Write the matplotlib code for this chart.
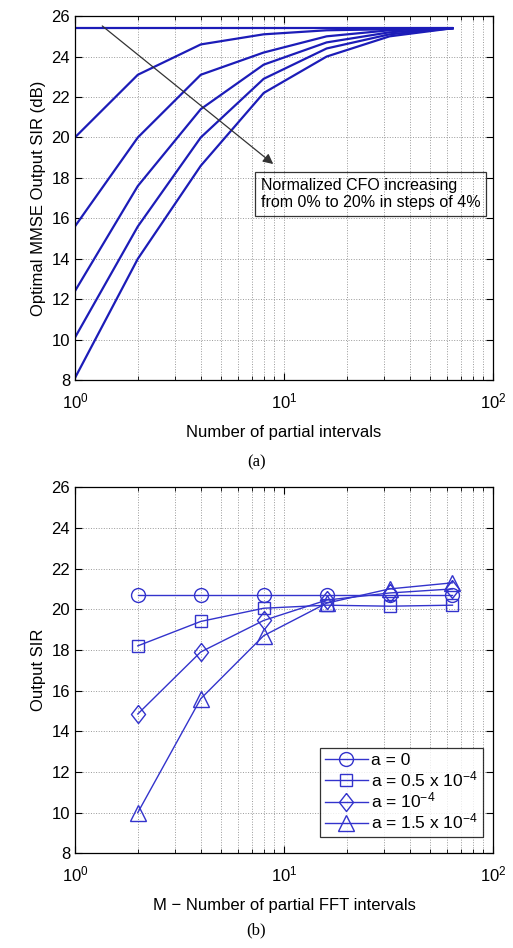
import matplotlib
matplotlib.use('Agg')
import matplotlib.pyplot as plt
import numpy as np

plt.rcParams['font.family'] = ['Liberation Sans', 'DejaVu Sans']
plt.rcParams['mathtext.default'] = 'regular'

# (a) optimal MMSE output SIR vs number of partial intervals, CFO 0..20 %
n_int = [1, 2, 4, 8, 16, 32, 64]
sir_cfo = [
    [25.4, 25.4, 25.4, 25.4, 25.4, 25.4, 25.4],
    [20.0, 23.1, 24.6, 25.1, 25.3, 25.35, 25.4],
    [15.6, 20.0, 23.1, 24.2, 25.0, 25.3, 25.4],
    [12.4, 17.6, 21.4, 23.6, 24.7, 25.2, 25.4],
    [10.1, 15.6, 20.0, 22.9, 24.4, 25.1, 25.4],
    [8.1, 14.0, 18.6, 22.2, 24.0, 25.0, 25.4],
]

# (b) output SIR vs M for several a
m_int = [2, 4, 8, 16, 32, 64]
sir_a0 = [20.7, 20.7, 20.7, 20.7, 20.7, 20.7]
sir_a05 = [18.2, 19.4, 20.05, 20.2, 20.15, 20.2]
sir_a10 = [14.85, 17.9, 19.45, 20.45, 20.8, 21.0]
sir_a15 = [10.0, 15.6, 18.7, 20.3, 21.0, 21.3]
labels_b = ['a = 0', 'a = 0.5 x 10$^{-4}$', 'a = 10$^{-4}$', 'a = 1.5 x 10$^{-4}$']

# MATLAB-like diamond (a bit taller than wide)
diamond = [(0, 1), (0.78, 0), (0, -1), (-0.78, 0), (0, 1)]
markers_b = ['o', 's', diamond, '^']
sizes_b = [10, 8, 13, 11.5]

fig = plt.figure(figsize=(5.13, 9.48), dpi=100)
ax1 = fig.add_axes([0.146, 0.599, 0.815, 0.384])
ax2 = fig.add_axes([0.146, 0.100, 0.815, 0.386])


def style(ax):
    ax.set_xscale('log')
    ax.set_xlim(1, 100)
    ax.set_ylim(8, 26)
    ax.set_yticks(np.arange(8, 27, 2))
    ax.grid(True, which='major', axis='both', ls=':', color='#999999', lw=0.7)
    ax.grid(True, which='minor', axis='x', ls=':', color='#999999', lw=0.7)
    ax.tick_params(which='both', direction='in', top=True, right=True, labelsize=12)
    ax.tick_params(which='major', length=5)
    ax.tick_params(which='minor', length=3)
    ax.tick_params(axis='x', which='major', pad=8)
    for sp in ax.spines.values():
        sp.set_linewidth(0.9)


style(ax1)
for s in sir_cfo:
    ax1.plot(n_int, s, color='#1c1cb8', lw=1.6)
ax1.set_xlabel('Number of partial intervals', fontsize=12, labelpad=10)
ax1.set_ylabel('Optimal MMSE Output SIR (dB)', fontsize=12)
ax1.annotate('', xy=(9.1, 18.6), xytext=(1.32, 25.6),
             arrowprops=dict(arrowstyle='-|>', color='#333333', lw=0.9,
                             mutation_scale=15))
ax1.text(7.75, 18.0, 'Normalized CFO increasing\nfrom 0% to 20% in steps of 4%',
         fontsize=11.5, va='top', ha='left', linespacing=1.2,
         bbox=dict(boxstyle='square,pad=0.35', fc='none', ec='#333333', lw=0.9))

style(ax2)
for s, lab, mk, sz in zip([sir_a0, sir_a05, sir_a10, sir_a15], labels_b, markers_b, sizes_b):
    ax2.plot(m_int, s, color='#3333cc', lw=1.0, marker=mk, ms=sz,
             mfc='none', mec='#3333cc', mew=1.0, label=lab)
ax2.set_xlabel('M \u2212 Number of partial FFT intervals', fontsize=12, labelpad=10)
ax2.set_ylabel('Output SIR', fontsize=12)
leg = ax2.legend(loc='lower right', bbox_to_anchor=(0.976, 0.044), fontsize=12.5,
                 frameon=True, fancybox=False, edgecolor='black', handlelength=2.5,
                 handletextpad=0.15, labelspacing=0.08, borderpad=0.3, borderaxespad=0)
leg.get_frame().set_linewidth(0.9)

fig.text(0.5, 0.512, '(a)', ha='center', va='center', fontsize=12, family='Liberation Serif')
fig.text(0.5, 0.019, '(b)', ha='center', va='center', fontsize=12, family='Liberation Serif')

fig.savefig('out.png', dpi=100)
